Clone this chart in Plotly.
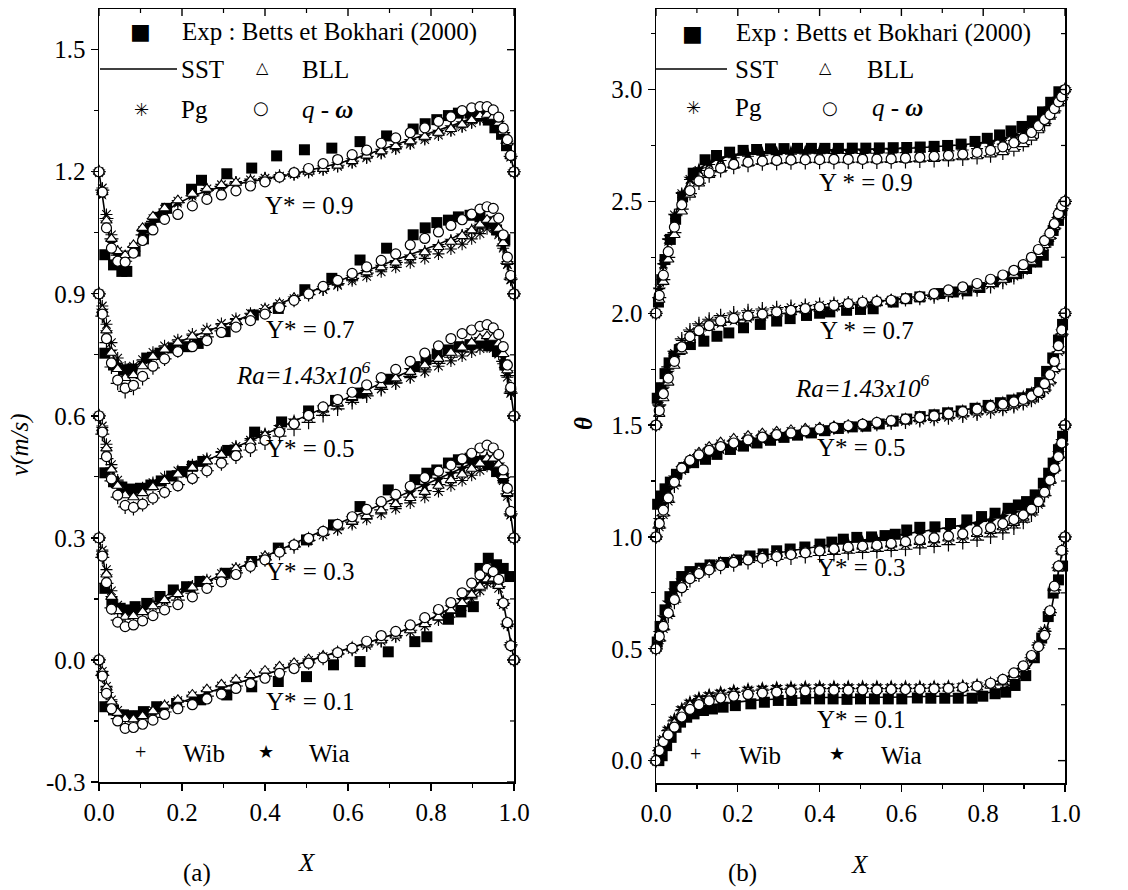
import plotly.graph_objects as go

W, H = 1128, 890
SERIF = "Liberation Serif, DejaVu Serif, serif"

# ---------------- shared X grid of the model profiles ----------------
XG = [0.0, 0.008, 0.018, 0.03, 0.045, 0.063, 0.083, 0.105, 0.13, 0.158, 0.19, 0.225, 0.26, 0.295,
      0.33, 0.365, 0.4, 0.435, 0.47, 0.505, 0.54, 0.575, 0.61, 0.645, 0.68, 0.715, 0.75, 0.785,
      0.818, 0.848, 0.875, 0.898, 0.918, 0.935, 0.95, 0.963, 0.974, 0.984, 0.992, 1.0]

# ---------------- panel (a): v (m/s) ----------------
# Y* = 0.9
a_exp_x_09 = [0.014, 0.035, 0.055, 0.067, 0.087, 0.107, 0.123, 0.143, 0.163, 0.223, 0.247, 0.308, 0.368, 0.428, 0.495,
              0.561, 0.629, 0.693, 0.757, 0.786, 0.814, 0.842, 0.866, 0.894, 0.918, 0.938, 0.954, 0.970, 0.982]
a_exp_v_09 = [0.996, 0.971, 0.955, 0.955, 1.005, 1.035, 1.062, 1.088, 1.110, 1.157, 1.179, 1.195, 1.209, 1.239, 1.254,
              1.258, 1.274, 1.288, 1.305, 1.318, 1.328, 1.338, 1.344, 1.344, 1.338, 1.327, 1.308, 1.292, 1.264]
a_sst_09 = [1.200, 1.140, 1.070, 1.020, 0.990, 0.985, 1.010, 1.048, 1.078, 1.102, 1.122, 1.140, 1.153, 1.163, 1.170, 1.176, 1.182, 1.188, 1.195, 1.203,
            1.211, 1.220, 1.230, 1.242, 1.254, 1.266, 1.278, 1.290, 1.301, 1.312, 1.322, 1.332, 1.340, 1.343, 1.338, 1.322, 1.300, 1.272, 1.240, 1.200]
a_bll_09 = [1.200, 1.150, 1.080, 1.035, 1.005, 0.995, 1.020, 1.062, 1.090, 1.110, 1.130, 1.146, 1.158, 1.167, 1.173, 1.178, 1.183, 1.188, 1.194, 1.200,
            1.207, 1.215, 1.226, 1.240, 1.250, 1.263, 1.275, 1.286, 1.296, 1.305, 1.316, 1.327, 1.337, 1.340, 1.335, 1.320, 1.298, 1.272, 1.238, 1.200]
a_pg_09 = [1.200, 1.160, 1.095, 1.045, 1.005, 0.990, 1.015, 1.055, 1.085, 1.108, 1.128, 1.145, 1.158, 1.168, 1.175, 1.180, 1.184, 1.189, 1.194, 1.199,
           1.205, 1.213, 1.222, 1.234, 1.245, 1.256, 1.268, 1.279, 1.290, 1.300, 1.310, 1.320, 1.328, 1.332, 1.328, 1.314, 1.293, 1.268, 1.236, 1.200]
a_qw_09 = [1.200, 1.150, 1.062, 1.012, 0.980, 0.978, 1.000, 1.031, 1.057, 1.083, 1.095, 1.116, 1.132, 1.143, 1.153, 1.165, 1.175, 1.187, 1.198, 1.208,
           1.220, 1.230, 1.242, 1.253, 1.270, 1.283, 1.296, 1.308, 1.324, 1.335, 1.350, 1.357, 1.360, 1.360, 1.352, 1.334, 1.307, 1.279, 1.240, 1.200]
a_wib_09 = [1.200, 1.155, 1.085, 1.035, 0.995, 0.980, 1.005, 1.045, 1.078, 1.102, 1.124, 1.141, 1.154, 1.164, 1.172, 1.178, 1.183, 1.189, 1.195, 1.201,
            1.208, 1.216, 1.226, 1.238, 1.249, 1.261, 1.273, 1.284, 1.295, 1.305, 1.315, 1.325, 1.333, 1.336, 1.331, 1.317, 1.296, 1.270, 1.238, 1.200]
a_wia_09 = [1.200, 1.145, 1.075, 1.025, 0.995, 0.988, 1.012, 1.050, 1.080, 1.104, 1.125, 1.142, 1.155, 1.165, 1.172, 1.178, 1.183, 1.189, 1.196, 1.203,
            1.210, 1.218, 1.228, 1.240, 1.251, 1.263, 1.275, 1.287, 1.298, 1.309, 1.319, 1.329, 1.337, 1.340, 1.335, 1.320, 1.298, 1.271, 1.239, 1.200]

# Y* = 0.7
a_exp_x_07 = [0.014, 0.035, 0.059, 0.079, 0.115, 0.147, 0.179, 0.211, 0.239, 0.304, 0.372, 0.432, 0.496, 0.561, 0.629,
              0.693, 0.757, 0.786, 0.814, 0.842, 0.866, 0.894, 0.918, 0.938, 0.958, 0.978]
a_exp_v_07 = [0.754, 0.725, 0.713, 0.715, 0.742, 0.754, 0.767, 0.770, 0.778, 0.807, 0.848, 0.864, 0.910, 0.938, 0.983,
              1.012, 1.045, 1.062, 1.075, 1.081, 1.089, 1.093, 1.089, 1.077, 1.057, 1.033]
a_sst_07 = [0.900, 0.855, 0.800, 0.755, 0.725, 0.712, 0.718, 0.735, 0.752, 0.767, 0.781, 0.795, 0.808, 0.821, 0.834, 0.848, 0.862, 0.876, 0.890, 0.904,
            0.918, 0.931, 0.944, 0.957, 0.970, 0.983, 0.996, 1.009, 1.022, 1.035, 1.048, 1.060, 1.071, 1.078, 1.074, 1.055, 1.022, 0.978, 0.938, 0.900]
a_bll_07 = [0.900, 0.860, 0.810, 0.755, 0.715, 0.693, 0.700, 0.722, 0.745, 0.763, 0.780, 0.795, 0.808, 0.820, 0.833, 0.847, 0.862, 0.876, 0.890, 0.904,
            0.917, 0.929, 0.941, 0.953, 0.965, 0.977, 0.990, 1.002, 1.015, 1.028, 1.042, 1.056, 1.070, 1.082, 1.080, 1.060, 1.025, 0.980, 0.940, 0.900]
a_pg_07 = [0.900, 0.870, 0.825, 0.780, 0.742, 0.720, 0.722, 0.738, 0.756, 0.772, 0.787, 0.801, 0.814, 0.827, 0.839, 0.852, 0.864, 0.876, 0.888, 0.899,
           0.910, 0.921, 0.932, 0.943, 0.954, 0.965, 0.976, 0.987, 0.998, 1.010, 1.022, 1.035, 1.048, 1.060, 1.062, 1.045, 1.012, 0.972, 0.935, 0.900]
a_qw_07 = [0.900, 0.850, 0.790, 0.730, 0.688, 0.668, 0.675, 0.697, 0.722, 0.740, 0.758, 0.770, 0.785, 0.805, 0.818, 0.834, 0.850, 0.866, 0.884, 0.900,
           0.918, 0.933, 0.950, 0.966, 0.982, 0.998, 1.020, 1.036, 1.052, 1.068, 1.082, 1.096, 1.108, 1.114, 1.110, 1.086, 1.045, 0.990, 0.945, 0.900]
a_wib_07 = [0.900, 0.845, 0.780, 0.720, 0.680, 0.660, 0.668, 0.692, 0.718, 0.740, 0.760, 0.778, 0.794, 0.809, 0.824, 0.839, 0.854, 0.869, 0.884, 0.898,
            0.912, 0.925, 0.938, 0.951, 0.964, 0.977, 0.990, 1.003, 1.016, 1.029, 1.042, 1.055, 1.067, 1.076, 1.072, 1.052, 1.018, 0.975, 0.936, 0.900]
a_wia_07 = [0.900, 0.858, 0.805, 0.758, 0.726, 0.710, 0.714, 0.731, 0.749, 0.765, 0.780, 0.794, 0.807, 0.820, 0.833, 0.846, 0.860, 0.874, 0.888, 0.901,
            0.914, 0.927, 0.940, 0.953, 0.966, 0.978, 0.991, 1.004, 1.017, 1.030, 1.043, 1.056, 1.067, 1.074, 1.070, 1.051, 1.018, 0.975, 0.936, 0.900]

# Y* = 0.5
a_exp_x_05 = [0.014, 0.035, 0.055, 0.075, 0.1, 0.125, 0.15, 0.175, 0.2, 0.225, 0.25, 0.31, 0.375, 0.44, 0.505, 0.57,
              0.63, 0.695, 0.76, 0.788, 0.815, 0.842, 0.868, 0.894, 0.918, 0.94, 0.96, 0.978]
a_exp_v_05 = [0.460, 0.438, 0.425, 0.420, 0.422, 0.430, 0.440, 0.452, 0.463, 0.476, 0.488, 0.515, 0.560, 0.585, 0.612, 0.638,
              0.656, 0.690, 0.721, 0.738, 0.752, 0.762, 0.770, 0.775, 0.779, 0.772, 0.758, 0.725]
a_sst_05 = [0.600, 0.565, 0.515, 0.465, 0.432, 0.414, 0.411, 0.419, 0.431, 0.444, 0.459, 0.475, 0.491, 0.507, 0.523, 0.539, 0.555, 0.571, 0.587, 0.603,
            0.619, 0.634, 0.649, 0.664, 0.679, 0.695, 0.711, 0.727, 0.742, 0.757, 0.769, 0.779, 0.787, 0.790, 0.784, 0.768, 0.742, 0.705, 0.660, 0.600]
a_bll_05 = [0.600, 0.570, 0.520, 0.468, 0.428, 0.405, 0.400, 0.410, 0.425, 0.440, 0.456, 0.472, 0.488, 0.504, 0.520, 0.536, 0.552, 0.568, 0.584, 0.600,
            0.616, 0.631, 0.646, 0.661, 0.676, 0.692, 0.708, 0.724, 0.740, 0.755, 0.768, 0.780, 0.790, 0.796, 0.792, 0.778, 0.752, 0.712, 0.665, 0.600]
a_pg_05 = [0.600, 0.575, 0.530, 0.480, 0.442, 0.420, 0.415, 0.423, 0.436, 0.450, 0.465, 0.480, 0.495, 0.510, 0.525, 0.540, 0.554, 0.568, 0.582, 0.596,
           0.610, 0.624, 0.638, 0.652, 0.666, 0.680, 0.694, 0.708, 0.722, 0.735, 0.747, 0.757, 0.765, 0.770, 0.766, 0.752, 0.728, 0.695, 0.655, 0.600]
a_qw_05 = [0.600, 0.560, 0.500, 0.445, 0.405, 0.380, 0.375, 0.383, 0.398, 0.412, 0.428, 0.446, 0.465, 0.484, 0.502, 0.521, 0.540, 0.560, 0.580, 0.601,
           0.622, 0.640, 0.658, 0.676, 0.694, 0.714, 0.734, 0.754, 0.772, 0.790, 0.802, 0.811, 0.820, 0.824, 0.816, 0.800, 0.770, 0.725, 0.670, 0.600]
a_wib_05 = [0.600, 0.555, 0.495, 0.440, 0.400, 0.376, 0.372, 0.382, 0.398, 0.414, 0.431, 0.448, 0.465, 0.482, 0.499, 0.516, 0.533, 0.550, 0.567, 0.584,
            0.601, 0.617, 0.633, 0.649, 0.665, 0.681, 0.697, 0.713, 0.729, 0.744, 0.757, 0.768, 0.777, 0.781, 0.776, 0.760, 0.734, 0.699, 0.656, 0.600]
a_wia_05 = [0.600, 0.567, 0.518, 0.468, 0.434, 0.415, 0.412, 0.420, 0.432, 0.445, 0.460, 0.476, 0.492, 0.508, 0.524, 0.540, 0.556, 0.572, 0.588, 0.604,
            0.620, 0.635, 0.650, 0.665, 0.680, 0.696, 0.712, 0.728, 0.743, 0.758, 0.770, 0.780, 0.788, 0.792, 0.786, 0.770, 0.744, 0.707, 0.661, 0.600]

# Y* = 0.3
a_exp_x_03 = [0.014, 0.031, 0.051, 0.067, 0.087, 0.115, 0.147, 0.179, 0.211, 0.243, 0.304, 0.368, 0.432, 0.5, 0.565,
              0.629, 0.697, 0.761, 0.79, 0.814, 0.842, 0.866, 0.894, 0.918, 0.938, 0.958, 0.974]
a_exp_v_03 = [0.176, 0.143, 0.127, 0.123, 0.131, 0.139, 0.156, 0.172, 0.180, 0.193, 0.213, 0.242, 0.275, 0.295, 0.332,
              0.377, 0.418, 0.443, 0.459, 0.467, 0.484, 0.492, 0.496, 0.488, 0.480, 0.463, 0.447]
a_sst_03 = [0.300, 0.260, 0.200, 0.150, 0.125, 0.115, 0.116, 0.124, 0.136, 0.149, 0.163, 0.178, 0.193, 0.208, 0.223, 0.239, 0.254, 0.270, 0.286, 0.302,
            0.318, 0.334, 0.350, 0.366, 0.382, 0.398, 0.414, 0.430, 0.445, 0.459, 0.472, 0.484, 0.494, 0.500, 0.497, 0.482, 0.455, 0.412, 0.361, 0.300]
a_bll_03 = [0.300, 0.265, 0.210, 0.155, 0.120, 0.106, 0.108, 0.118, 0.132, 0.147, 0.162, 0.178, 0.194, 0.210, 0.225, 0.240, 0.255, 0.270, 0.284, 0.298,
            0.312, 0.326, 0.340, 0.354, 0.368, 0.383, 0.398, 0.413, 0.428, 0.442, 0.456, 0.470, 0.483, 0.495, 0.495, 0.480, 0.452, 0.410, 0.360, 0.300]
a_pg_03 = [0.300, 0.270, 0.222, 0.170, 0.135, 0.120, 0.120, 0.128, 0.140, 0.153, 0.167, 0.182, 0.197, 0.212, 0.226, 0.240, 0.254, 0.268, 0.281, 0.294,
           0.307, 0.320, 0.333, 0.346, 0.359, 0.372, 0.386, 0.400, 0.414, 0.428, 0.441, 0.454, 0.466, 0.476, 0.478, 0.466, 0.441, 0.402, 0.356, 0.300]
a_qw_03 = [0.300, 0.255, 0.190, 0.125, 0.093, 0.082, 0.086, 0.096, 0.109, 0.123, 0.136, 0.155, 0.176, 0.192, 0.210, 0.230, 0.246, 0.265, 0.283, 0.299,
           0.316, 0.333, 0.352, 0.370, 0.389, 0.407, 0.427, 0.448, 0.464, 0.479, 0.494, 0.508, 0.521, 0.528, 0.521, 0.505, 0.467, 0.422, 0.365, 0.300]
a_wib_03 = [0.300, 0.252, 0.188, 0.128, 0.098, 0.088, 0.091, 0.102, 0.116, 0.131, 0.147, 0.164, 0.181, 0.198, 0.214, 0.230, 0.246, 0.262, 0.278, 0.294,
            0.309, 0.324, 0.339, 0.354, 0.369, 0.384, 0.400, 0.416, 0.431, 0.446, 0.460, 0.473, 0.485, 0.493, 0.491, 0.476, 0.449, 0.408, 0.359, 0.300]
a_wia_03 = [0.300, 0.262, 0.205, 0.152, 0.124, 0.113, 0.114, 0.122, 0.134, 0.147, 0.161, 0.176, 0.191, 0.206, 0.221, 0.237, 0.252, 0.268, 0.284, 0.300,
            0.316, 0.332, 0.348, 0.364, 0.380, 0.396, 0.412, 0.428, 0.443, 0.457, 0.470, 0.482, 0.492, 0.498, 0.495, 0.480, 0.453, 0.411, 0.360, 0.300]

# Y* = 0.1
a_exp_x_01 = [0.014, 0.035, 0.059, 0.083, 0.107, 0.139, 0.187, 0.245, 0.308, 0.368, 0.432, 0.5, 0.565, 0.629, 0.697,
              0.761, 0.79, 0.842, 0.872, 0.902, 0.918, 0.938, 0.958, 0.974, 0.99]
a_exp_v_01 = [-0.115, -0.123, -0.135, -0.137, -0.127, -0.115, -0.107, -0.098, -0.086, -0.066, -0.053, -0.041, -0.012, -0.004, 0.020,
              0.045, 0.057, 0.100, 0.118, 0.131, 0.225, 0.250, 0.234, 0.225, 0.205]
a_sst_01 = [0.000, -0.035, -0.075, -0.108, -0.130, -0.142, -0.143, -0.137, -0.128, -0.117, -0.105, -0.093, -0.081, -0.069, -0.058, -0.047, -0.036, -0.025, -0.014, -0.003,
            0.008, 0.019, 0.030, 0.041, 0.053, 0.065, 0.079, 0.094, 0.111, 0.128, 0.146, 0.165, 0.185, 0.202, 0.204, 0.186, 0.143, 0.090, 0.038, 0.000]
a_bll_01 = [0.000, -0.030, -0.068, -0.102, -0.130, -0.145, -0.146, -0.138, -0.126, -0.112, -0.098, -0.085, -0.072, -0.060, -0.048, -0.037, -0.026, -0.016, -0.007, 0.002,
            0.010, 0.019, 0.028, 0.038, 0.048, 0.060, 0.073, 0.088, 0.105, 0.122, 0.140, 0.160, 0.180, 0.198, 0.200, 0.182, 0.140, 0.088, 0.038, 0.000]
a_pg_01 = [0.000, -0.028, -0.065, -0.098, -0.124, -0.138, -0.140, -0.134, -0.124, -0.112, -0.100, -0.088, -0.076, -0.064, -0.053, -0.042, -0.031, -0.021, -0.011, -0.001,
           0.008, 0.017, 0.026, 0.036, 0.046, 0.057, 0.069, 0.083, 0.098, 0.114, 0.131, 0.150, 0.170, 0.188, 0.192, 0.176, 0.136, 0.086, 0.037, 0.000]
a_qw_01 = [0.000, -0.040, -0.082, -0.120, -0.150, -0.168, -0.166, -0.158, -0.148, -0.134, -0.120, -0.110, -0.096, -0.084, -0.070, -0.058, -0.045, -0.033, -0.021, -0.008,
           0.005, 0.018, 0.029, 0.046, 0.060, 0.070, 0.086, 0.104, 0.124, 0.141, 0.165, 0.189, 0.209, 0.225, 0.217, 0.198, 0.140, 0.092, 0.035, 0.000]
a_wib_01 = [0.000, -0.038, -0.080, -0.116, -0.144, -0.160, -0.160, -0.152, -0.141, -0.128, -0.115, -0.102, -0.089, -0.076, -0.064, -0.052, -0.040, -0.029, -0.018, -0.007,
            0.004, 0.015, 0.026, 0.037, 0.048, 0.060, 0.073, 0.087, 0.103, 0.120, 0.138, 0.157, 0.177, 0.195, 0.198, 0.180, 0.139, 0.088, 0.037, 0.000]
a_wia_01 = [0.000, -0.034, -0.073, -0.106, -0.128, -0.140, -0.141, -0.135, -0.126, -0.115, -0.103, -0.091, -0.079, -0.067, -0.056, -0.045, -0.034, -0.023, -0.012, -0.002,
            0.009, 0.020, 0.031, 0.042, 0.054, 0.066, 0.080, 0.095, 0.112, 0.129, 0.147, 0.166, 0.186, 0.203, 0.205, 0.187, 0.144, 0.091, 0.039, 0.000]

# ---------------- panel (b): theta ----------------
# Y* = 0.9
b_exp_x_09 = [0.006, 0.014, 0.022, 0.035, 0.048, 0.065, 0.091, 0.12, 0.148, 0.18, 0.213, 0.246, 0.28, 0.313, 0.346, 0.38, 0.413, 0.446,
              0.48, 0.513, 0.546, 0.58, 0.613, 0.646, 0.68, 0.713, 0.746, 0.78, 0.81, 0.84, 0.868, 0.895, 0.92, 0.945, 0.965, 0.985]
b_exp_v_09 = [2.05, 2.15, 2.24, 2.33, 2.42, 2.52, 2.626, 2.686, 2.705, 2.72, 2.728, 2.732, 2.735, 2.736, 2.737, 2.737, 2.737, 2.737,
              2.738, 2.738, 2.739, 2.740, 2.741, 2.743, 2.746, 2.750, 2.756, 2.768, 2.782, 2.797, 2.815, 2.835, 2.86, 2.90, 2.943, 2.99]
b_sst_09 = [2.000, 2.100, 2.210, 2.320, 2.430, 2.530, 2.600, 2.645, 2.675, 2.695, 2.708, 2.716, 2.721, 2.724, 2.726, 2.728, 2.729, 2.730, 2.731, 2.732,
            2.733, 2.735, 2.737, 2.740, 2.744, 2.748, 2.753, 2.760, 2.769, 2.782, 2.798, 2.818, 2.843, 2.870, 2.895, 2.916, 2.938, 2.960, 2.978, 3.000]
b_bll_09 = [2.000, 2.060, 2.140, 2.240, 2.350, 2.455, 2.530, 2.580, 2.618, 2.643, 2.660, 2.670, 2.676, 2.680, 2.682, 2.683, 2.684, 2.684, 2.684, 2.684,
            2.684, 2.685, 2.686, 2.688, 2.690, 2.693, 2.697, 2.702, 2.710, 2.720, 2.735, 2.756, 2.785, 2.818, 2.850, 2.878, 2.906, 2.938, 2.965, 3.000]
b_pg_09 = [2.000, 2.110, 2.220, 2.330, 2.440, 2.535, 2.598, 2.638, 2.665, 2.683, 2.695, 2.702, 2.706, 2.709, 2.711, 2.712, 2.713, 2.714, 2.714, 2.714,
           2.715, 2.716, 2.718, 2.720, 2.723, 2.726, 2.730, 2.736, 2.744, 2.756, 2.772, 2.793, 2.820, 2.850, 2.878, 2.902, 2.926, 2.952, 2.972, 3.000]
b_qw_09 = [2.000, 2.080, 2.170, 2.275, 2.385, 2.485, 2.548, 2.592, 2.627, 2.649, 2.665, 2.675, 2.680, 2.683, 2.685, 2.686, 2.687, 2.688, 2.688, 2.688,
           2.689, 2.690, 2.693, 2.697, 2.701, 2.706, 2.711, 2.719, 2.728, 2.744, 2.762, 2.782, 2.808, 2.838, 2.866, 2.888, 2.915, 2.945, 2.968, 3.000]
b_wib_09 = [2.000, 2.070, 2.150, 2.250, 2.360, 2.465, 2.535, 2.582, 2.615, 2.638, 2.653, 2.662, 2.668, 2.671, 2.673, 2.674, 2.675, 2.675, 2.675, 2.676,
            2.676, 2.677, 2.678, 2.680, 2.683, 2.686, 2.690, 2.696, 2.704, 2.716, 2.732, 2.754, 2.782, 2.815, 2.848, 2.876, 2.905, 2.937, 2.964, 3.000]
b_wia_09 = [2.000, 2.105, 2.215, 2.325, 2.435, 2.532, 2.600, 2.643, 2.672, 2.691, 2.703, 2.711, 2.716, 2.719, 2.721, 2.723, 2.724, 2.725, 2.726, 2.727,
            2.728, 2.730, 2.732, 2.735, 2.739, 2.743, 2.748, 2.755, 2.764, 2.777, 2.793, 2.814, 2.840, 2.868, 2.893, 2.914, 2.936, 2.958, 2.977, 3.000]

# Y* = 0.7
b_exp_x_07 = [0.003, 0.012, 0.022, 0.032, 0.044, 0.059, 0.084, 0.117, 0.149, 0.178, 0.214, 0.255, 0.295, 0.328, 0.368, 0.4, 0.425, 0.466,
              0.5, 0.531, 0.58, 0.613, 0.645, 0.694, 0.727, 0.76, 0.792, 0.825, 0.857, 0.882, 0.906, 0.931, 0.947, 0.959, 0.971, 0.984, 0.992]
b_exp_v_07 = [1.62, 1.667, 1.73, 1.778, 1.808, 1.838, 1.86, 1.875, 1.897, 1.912, 1.935, 1.95, 1.965, 1.976, 1.99, 2.0, 2.006, 2.013,
              2.017, 2.02, 2.05, 2.065, 2.073, 2.088, 2.095, 2.1, 2.115, 2.14, 2.162, 2.177, 2.2, 2.229, 2.259, 2.326, 2.37, 2.415, 2.46]
b_sst_07 = [1.500, 1.580, 1.660, 1.735, 1.800, 1.855, 1.893, 1.918, 1.938, 1.954, 1.966, 1.977, 1.986, 1.995, 2.003, 2.011, 2.019, 2.027, 2.035, 2.043,
            2.050, 2.058, 2.066, 2.075, 2.085, 2.096, 2.108, 2.122, 2.138, 2.157, 2.180, 2.206, 2.238, 2.274, 2.314, 2.350, 2.392, 2.438, 2.474, 2.500]
b_bll_07 = [1.500, 1.550, 1.620, 1.690, 1.765, 1.832, 1.880, 1.912, 1.937, 1.956, 1.970, 1.981, 1.990, 1.998, 2.005, 2.012, 2.019, 2.026, 2.033, 2.039,
            2.045, 2.051, 2.058, 2.066, 2.076, 2.088, 2.101, 2.115, 2.131, 2.150, 2.172, 2.198, 2.230, 2.265, 2.305, 2.342, 2.385, 2.432, 2.470, 2.500]
b_pg_07 = [1.500, 1.585, 1.670, 1.750, 1.820, 1.878, 1.918, 1.946, 1.966, 1.981, 1.993, 2.003, 2.011, 2.018, 2.025, 2.031, 2.036, 2.041, 2.046, 2.050,
           2.054, 2.059, 2.064, 2.070, 2.078, 2.088, 2.099, 2.112, 2.127, 2.145, 2.166, 2.192, 2.224, 2.260, 2.300, 2.338, 2.382, 2.430, 2.468, 2.500]
b_qw_07 = [1.500, 1.565, 1.640, 1.710, 1.785, 1.850, 1.895, 1.922, 1.945, 1.966, 1.977, 1.988, 1.996, 2.006, 2.013, 2.021, 2.028, 2.035, 2.043, 2.049,
           2.053, 2.058, 2.065, 2.074, 2.088, 2.104, 2.118, 2.133, 2.152, 2.171, 2.192, 2.217, 2.250, 2.285, 2.325, 2.358, 2.400, 2.445, 2.480, 2.500]
b_wib_07 = [1.500, 1.590, 1.680, 1.760, 1.830, 1.885, 1.925, 1.953, 1.973, 1.989, 2.001, 2.011, 2.019, 2.025, 2.030, 2.035, 2.039, 2.043, 2.046, 2.049,
            2.052, 2.056, 2.061, 2.067, 2.074, 2.083, 2.093, 2.105, 2.120, 2.138, 2.160, 2.186, 2.218, 2.255, 2.296, 2.335, 2.380, 2.428, 2.467, 2.500]
b_wia_07 = [1.500, 1.578, 1.658, 1.733, 1.800, 1.856, 1.895, 1.921, 1.941, 1.957, 1.969, 1.980, 1.989, 1.998, 2.006, 2.014, 2.022, 2.030, 2.037, 2.044,
            2.051, 2.058, 2.065, 2.073, 2.082, 2.093, 2.105, 2.119, 2.135, 2.154, 2.177, 2.203, 2.235, 2.271, 2.311, 2.348, 2.390, 2.436, 2.472, 2.500]

# Y* = 0.5
b_exp_x_05 = [0.004, 0.012, 0.022, 0.035, 0.05, 0.068, 0.092, 0.121, 0.149, 0.182, 0.214, 0.247, 0.28, 0.313, 0.346, 0.38, 0.413, 0.446, 0.48,
              0.513, 0.546, 0.58, 0.613, 0.646, 0.68, 0.713, 0.746, 0.78, 0.812, 0.842, 0.87, 0.895, 0.918, 0.938, 0.955, 0.97, 0.984, 0.994]
b_exp_v_05 = [1.146, 1.183, 1.215, 1.245, 1.28, 1.31, 1.332, 1.347, 1.369, 1.391, 1.406, 1.42, 1.432, 1.445, 1.455, 1.465, 1.475, 1.485, 1.492,
              1.495, 1.505, 1.518, 1.527, 1.538, 1.546, 1.555, 1.563, 1.575, 1.588, 1.600, 1.612, 1.622, 1.640, 1.690, 1.740, 1.800, 1.880, 1.950]
b_sst_05 = [1.000, 1.080, 1.150, 1.215, 1.268, 1.308, 1.335, 1.355, 1.373, 1.389, 1.404, 1.418, 1.431, 1.443, 1.454, 1.464, 1.474, 1.483, 1.492, 1.500,
            1.509, 1.518, 1.527, 1.536, 1.545, 1.555, 1.566, 1.578, 1.591, 1.604, 1.617, 1.631, 1.646, 1.664, 1.688, 1.720, 1.770, 1.845, 1.920, 2.000]
b_bll_05 = [1.000, 1.050, 1.105, 1.165, 1.240, 1.305, 1.345, 1.378, 1.404, 1.424, 1.440, 1.453, 1.464, 1.472, 1.479, 1.485, 1.490, 1.495, 1.500, 1.505,
            1.510, 1.515, 1.520, 1.526, 1.532, 1.539, 1.547, 1.556, 1.566, 1.577, 1.588, 1.600, 1.615, 1.635, 1.660, 1.695, 1.750, 1.830, 1.910, 2.000]
b_pg_05 = [1.000, 1.045, 1.100, 1.160, 1.232, 1.298, 1.340, 1.372, 1.397, 1.416, 1.432, 1.445, 1.456, 1.465, 1.472, 1.479, 1.485, 1.491, 1.497, 1.502,
           1.507, 1.512, 1.517, 1.522, 1.528, 1.535, 1.543, 1.552, 1.562, 1.573, 1.585, 1.598, 1.613, 1.633, 1.658, 1.692, 1.748, 1.828, 1.908, 2.000]
b_qw_05 = [1.000, 1.060, 1.120, 1.175, 1.245, 1.308, 1.342, 1.367, 1.387, 1.404, 1.420, 1.434, 1.446, 1.457, 1.465, 1.474, 1.482, 1.490, 1.497, 1.504,
           1.512, 1.520, 1.527, 1.534, 1.541, 1.550, 1.560, 1.571, 1.583, 1.594, 1.604, 1.615, 1.630, 1.650, 1.685, 1.725, 1.785, 1.855, 1.925, 2.000]
b_wib_05 = [1.000, 1.040, 1.095, 1.155, 1.228, 1.293, 1.336, 1.368, 1.393, 1.412, 1.428, 1.441, 1.452, 1.461, 1.469, 1.476, 1.482, 1.488, 1.494, 1.499,
            1.504, 1.509, 1.514, 1.520, 1.526, 1.533, 1.541, 1.550, 1.560, 1.571, 1.583, 1.596, 1.611, 1.631, 1.656, 1.690, 1.746, 1.826, 1.906, 2.000]
b_wia_05 = [1.000, 1.075, 1.145, 1.210, 1.265, 1.307, 1.336, 1.358, 1.377, 1.393, 1.408, 1.422, 1.435, 1.446, 1.456, 1.466, 1.475, 1.484, 1.493, 1.501,
            1.510, 1.518, 1.527, 1.536, 1.545, 1.554, 1.564, 1.576, 1.588, 1.601, 1.614, 1.628, 1.643, 1.661, 1.685, 1.717, 1.767, 1.842, 1.918, 2.000]

# Y* = 0.3
b_exp_x_03 = [0.003, 0.01, 0.022, 0.034, 0.046, 0.063, 0.083, 0.108, 0.132, 0.165, 0.197, 0.23, 0.262, 0.295, 0.328, 0.364, 0.401, 0.43, 0.458, 0.491,
              0.527, 0.56, 0.585, 0.613, 0.645, 0.682, 0.72, 0.76, 0.796, 0.829, 0.861, 0.886, 0.906, 0.927, 0.947, 0.96, 0.971, 0.984, 0.994]
b_exp_v_03 = [0.53, 0.60, 0.674, 0.733, 0.778, 0.823, 0.845, 0.86, 0.875, 0.886, 0.897, 0.915, 0.924, 0.938, 0.946, 0.955, 0.968, 0.977, 0.99, 0.998,
              1.0, 1.006, 1.012, 1.031, 1.043, 1.045, 1.06, 1.076, 1.091, 1.106, 1.128, 1.143, 1.158, 1.188, 1.24, 1.285, 1.33, 1.39, 1.45]
b_sst_03 = [0.500, 0.575, 0.645, 0.712, 0.765, 0.808, 0.836, 0.856, 0.871, 0.884, 0.896, 0.907, 0.918, 0.928, 0.938, 0.948, 0.958, 0.968, 0.977, 0.986,
            0.995, 1.004, 1.013, 1.022, 1.032, 1.042, 1.053, 1.066, 1.081, 1.098, 1.116, 1.136, 1.160, 1.190, 1.230, 1.275, 1.325, 1.378, 1.430, 1.500]
b_bll_03 = [0.500, 0.545, 0.595, 0.660, 0.725, 0.785, 0.826, 0.851, 0.870, 0.886, 0.899, 0.909, 0.917, 0.924, 0.930, 0.936, 0.941, 0.946, 0.951, 0.956,
            0.961, 0.966, 0.972, 0.978, 0.985, 0.993, 1.002, 1.013, 1.027, 1.043, 1.063, 1.086, 1.114, 1.150, 1.195, 1.250, 1.305, 1.362, 1.420, 1.500]
b_pg_03 = [0.500, 0.540, 0.590, 0.652, 0.718, 0.778, 0.820, 0.846, 0.865, 0.881, 0.894, 0.904, 0.912, 0.919, 0.925, 0.931, 0.936, 0.941, 0.946, 0.951,
           0.955, 0.960, 0.965, 0.971, 0.978, 0.986, 0.995, 1.006, 1.020, 1.037, 1.057, 1.080, 1.109, 1.146, 1.192, 1.248, 1.303, 1.360, 1.418, 1.500]
b_qw_03 = [0.500, 0.555, 0.600, 0.660, 0.720, 0.773, 0.814, 0.836, 0.853, 0.872, 0.886, 0.897, 0.904, 0.912, 0.921, 0.929, 0.938, 0.946, 0.954, 0.959,
           0.963, 0.971, 0.979, 0.988, 0.996, 1.004, 1.014, 1.027, 1.042, 1.059, 1.078, 1.098, 1.124, 1.158, 1.200, 1.254, 1.305, 1.359, 1.420, 1.500]
b_wib_03 = [0.500, 0.535, 0.585, 0.645, 0.708, 0.765, 0.805, 0.830, 0.848, 0.864, 0.876, 0.886, 0.894, 0.900, 0.906, 0.912, 0.917, 0.922, 0.927, 0.931,
            0.935, 0.940, 0.945, 0.951, 0.958, 0.966, 0.975, 0.986, 1.000, 1.018, 1.040, 1.066, 1.098, 1.138, 1.185, 1.242, 1.298, 1.356, 1.415, 1.500]
b_wia_03 = [0.500, 0.570, 0.640, 0.706, 0.760, 0.804, 0.834, 0.855, 0.871, 0.885, 0.897, 0.908, 0.918, 0.927, 0.936, 0.945, 0.954, 0.963, 0.971, 0.979,
            0.987, 0.995, 1.004, 1.013, 1.023, 1.033, 1.044, 1.057, 1.072, 1.089, 1.108, 1.129, 1.154, 1.185, 1.226, 1.272, 1.322, 1.375, 1.428, 1.500]

# Y* = 0.1
b_exp_x_01 = [0.007, 0.015, 0.026, 0.037, 0.049, 0.06, 0.075, 0.093, 0.116, 0.138, 0.164, 0.194, 0.232, 0.265, 0.299, 0.332, 0.366, 0.4, 0.433, 0.467,
              0.5, 0.534, 0.568, 0.601, 0.639, 0.672, 0.706, 0.739, 0.773, 0.799, 0.829, 0.855, 0.878, 0.904, 0.925, 0.943, 0.959, 0.971, 0.984, 0.994]
b_exp_v_01 = [0.0, 0.022, 0.067, 0.104, 0.149, 0.172, 0.194, 0.209, 0.224, 0.231, 0.239, 0.246, 0.254, 0.261, 0.269, 0.269, 0.276, 0.276, 0.276, 0.274,
              0.276, 0.276, 0.276, 0.276, 0.28, 0.279, 0.279, 0.279, 0.279, 0.288, 0.299, 0.306, 0.336, 0.38, 0.46, 0.548, 0.644, 0.749, 0.808, 0.87]
b_sst_01 = [0.000, 0.035, 0.075, 0.110, 0.148, 0.185, 0.212, 0.230, 0.243, 0.253, 0.261, 0.267, 0.272, 0.276, 0.279, 0.281, 0.282, 0.283, 0.283, 0.283,
            0.283, 0.283, 0.284, 0.284, 0.285, 0.287, 0.290, 0.296, 0.306, 0.322, 0.346, 0.382, 0.432, 0.490, 0.555, 0.640, 0.740, 0.845, 0.925, 1.000]
b_bll_01 = [0.000, 0.040, 0.085, 0.125, 0.168, 0.215, 0.248, 0.268, 0.283, 0.294, 0.302, 0.308, 0.312, 0.315, 0.317, 0.318, 0.319, 0.319, 0.319, 0.319,
            0.319, 0.319, 0.319, 0.319, 0.320, 0.321, 0.323, 0.327, 0.335, 0.350, 0.374, 0.410, 0.460, 0.515, 0.575, 0.660, 0.760, 0.860, 0.935, 1.000]
b_pg_01 = [0.000, 0.048, 0.095, 0.138, 0.182, 0.228, 0.258, 0.277, 0.291, 0.302, 0.310, 0.316, 0.320, 0.323, 0.325, 0.326, 0.327, 0.327, 0.327, 0.327,
           0.327, 0.327, 0.327, 0.327, 0.328, 0.329, 0.331, 0.335, 0.343, 0.357, 0.380, 0.414, 0.462, 0.518, 0.580, 0.665, 0.765, 0.865, 0.938, 1.000]
b_qw_01 = [0.000, 0.045, 0.085, 0.115, 0.150, 0.195, 0.229, 0.250, 0.267, 0.280, 0.288, 0.296, 0.302, 0.306, 0.309, 0.312, 0.314, 0.315, 0.315, 0.316,
           0.316, 0.318, 0.318, 0.319, 0.321, 0.323, 0.327, 0.333, 0.346, 0.363, 0.392, 0.424, 0.470, 0.510, 0.560, 0.670, 0.780, 0.870, 0.940, 1.000]
b_wib_01 = [0.000, 0.045, 0.092, 0.134, 0.178, 0.223, 0.253, 0.272, 0.286, 0.297, 0.305, 0.311, 0.315, 0.318, 0.320, 0.321, 0.322, 0.322, 0.322, 0.322,
            0.322, 0.322, 0.322, 0.323, 0.324, 0.325, 0.327, 0.331, 0.339, 0.354, 0.377, 0.412, 0.460, 0.516, 0.578, 0.662, 0.762, 0.862, 0.936, 1.000]
b_wia_01 = [0.000, 0.050, 0.098, 0.142, 0.187, 0.233, 0.263, 0.282, 0.296, 0.307, 0.315, 0.321, 0.325, 0.328, 0.330, 0.331, 0.332, 0.332, 0.332, 0.332,
            0.332, 0.332, 0.332, 0.332, 0.333, 0.334, 0.336, 0.340, 0.348, 0.362, 0.385, 0.418, 0.465, 0.520, 0.582, 0.668, 0.768, 0.868, 0.940, 1.000]

# ---------------- axis ticks ----------------
A_XTICKS = [0.0, 0.2, 0.4, 0.6, 0.8, 1.0]
A_XTEXT = ["0.0", "0.2", "0.4", "0.6", "0.8", "1.0"]
A_XMINOR = [0.1, 0.3, 0.5, 0.7, 0.9]
A_YTICKS = [-0.3, 0.0, 0.3, 0.6, 0.9, 1.2, 1.5]
A_YTEXT = ["-0.3", "0.0", "0.3", "0.6", "0.9", "1.2", "1.5"]
A_YMINOR = [-0.15, 0.15, 0.45, 0.75, 1.05, 1.35]
B_YTICKS = [0.0, 0.5, 1.0, 1.5, 2.0, 2.5, 3.0]
B_YTEXT = ["0.0", "0.5", "1.0", "1.5", "2.0", "2.5", "3.0"]
B_YMINOR = [0.25, 0.75, 1.25, 1.75, 2.25, 2.75, 3.25]

# ---------------- build figure ----------------
PANELS = {
    "a": {"xa": "x", "ya": "y", "profiles": [
        (a_exp_x_09, a_exp_v_09, a_sst_09, a_bll_09, a_pg_09, a_qw_09, a_wib_09, a_wia_09),
        (a_exp_x_07, a_exp_v_07, a_sst_07, a_bll_07, a_pg_07, a_qw_07, a_wib_07, a_wia_07),
        (a_exp_x_05, a_exp_v_05, a_sst_05, a_bll_05, a_pg_05, a_qw_05, a_wib_05, a_wia_05),
        (a_exp_x_03, a_exp_v_03, a_sst_03, a_bll_03, a_pg_03, a_qw_03, a_wib_03, a_wia_03),
        (a_exp_x_01, a_exp_v_01, a_sst_01, a_bll_01, a_pg_01, a_qw_01, a_wib_01, a_wia_01)]},
    "b": {"xa": "x2", "ya": "y2", "profiles": [
        (b_exp_x_09, b_exp_v_09, b_sst_09, b_bll_09, b_pg_09, b_qw_09, b_wib_09, b_wia_09),
        (b_exp_x_07, b_exp_v_07, b_sst_07, b_bll_07, b_pg_07, b_qw_07, b_wib_07, b_wia_07),
        (b_exp_x_05, b_exp_v_05, b_sst_05, b_bll_05, b_pg_05, b_qw_05, b_wib_05, b_wia_05),
        (b_exp_x_03, b_exp_v_03, b_sst_03, b_bll_03, b_pg_03, b_qw_03, b_wib_03, b_wia_03),
        (b_exp_x_01, b_exp_v_01, b_sst_01, b_bll_01, b_pg_01, b_qw_01, b_wib_01, b_wia_01)]},
}

for p in PANELS.values():
    for prof in p["profiles"]:
        assert len(prof[0]) == len(prof[1]), "exp length mismatch"
        for arr in prof[2:]:
            assert len(arr) == len(XG), "model length mismatch %d" % len(arr)

fig = go.Figure()
MARKER_STYLES = {
    "wia": dict(symbol="star", size=10, color="black", line=dict(width=0)),
    "wib": dict(symbol="cross-thin-open", size=10, color="black", line=dict(width=1.2, color="black")),
    "pg": dict(symbol="asterisk-open", size=10, color="black", line=dict(width=1.1, color="black")),
    "bll": dict(symbol="triangle-up", size=10, color="white", line=dict(width=1.1, color="black")),
    "qw": dict(symbol="circle", size=10, color="white", line=dict(width=1.2, color="black")),
}
for key, p in PANELS.items():
    xa, ya = p["xa"], p["ya"]
    for (ex, ev, sst, bll, pg, qw, wib, wia) in p["profiles"]:
        fig.add_trace(go.Scatter(x=ex, y=ev, mode="markers", xaxis=xa, yaxis=ya, cliponaxis=False,
                                 marker=dict(symbol="square", size=11, color="black"), showlegend=False))
        fig.add_trace(go.Scatter(x=XG, y=sst, mode="lines", xaxis=xa, yaxis=ya, cliponaxis=False,
                                 line=dict(color="black", width=1.6), showlegend=False))
        for name, vals in (("wia", wia), ("wib", wib), ("pg", pg), ("bll", bll), ("qw", qw)):
            fig.add_trace(go.Scatter(x=XG, y=vals, mode="markers", xaxis=xa, yaxis=ya, cliponaxis=False,
                                     marker=MARKER_STYLES[name], showlegend=False))


# positions below are given in page pixels of the 1128x890 window
def px(x):
    return x / W


def py(y):
    return 1 - y / H


ann = []
TXT = 25


def txt(x, y, s, size=TXT, xanchor="center", family=SERIF, angle=0):
    ann.append(dict(x=px(x), y=py(y), xref="paper", yref="paper", text=s, showarrow=False,
                    xanchor=xanchor, yanchor="middle", textangle=angle, borderpad=0,
                    font=dict(family=family, size=size, color="black")))


SYM = "DejaVu Sans"
QW = "<i>q</i> - <b><i>ω</i></b>"
RA = "<i>Ra=1.43x10<sup>6</sup></i>"
# panel (a) texts
txt(140, 32, "■", 22, family=SYM)
txt(181, 32, "Exp : Betts et Bokhari (2000)", xanchor="left")
txt(180, 69, "SST", xanchor="left")
txt(262, 68, "△", 16, family=SYM)
txt(301, 69, "BLL", xanchor="left")
txt(141, 109, "✳", 18, family=SYM)
txt(180, 110, "Pg", xanchor="left")
txt(261, 108, "○", 18, family=SYM)
txt(301, 110, QW, xanchor="left")
txt(140, 752, "+", 20)
txt(182, 753, "Wib", xanchor="left")
txt(266, 751, "★", 18, family=SYM)
txt(308, 753, "Wia", xanchor="left")
txt(309, 205, "Y* = 0.9")
txt(310, 329, "Y* = 0.7")
txt(303, 373, RA)
txt(310, 449, "Y* = 0.5")
txt(310, 571, "Y* = 0.3")
txt(310, 701, "Y* = 0.1")
txt(20, 445, "<i>v(m/s)</i>", angle=-90)
txt(307, 862, "<i>X</i>")
txt(197, 873, "(a)")
# panel (b) texts
txt(692, 33, "■", 22, family=SYM)
txt(735, 33, "Exp : Betts et Bokhari (2000)", xanchor="left")
txt(734, 69, "SST", xanchor="left")
txt(825, 68, "△", 16, family=SYM)
txt(866, 69, "BLL", xanchor="left")
txt(693, 107, "✳", 18, family=SYM)
txt(734, 108, "Pg", xanchor="left")
txt(830, 107, "○", 18, family=SYM)
txt(871, 108, QW, xanchor="left")
txt(695, 754, "+", 20)
txt(738, 755, "Wib", xanchor="left")
txt(837, 753, "★", 18, family=SYM)
txt(880, 755, "Wia", xanchor="left")
txt(866, 182, "Y * = 0.9")
txt(867, 331, "Y * = 0.7")
txt(862, 386, RA)
txt(861, 447, "Y* = 0.5")
txt(861, 567, "Y* = 0.3")
txt(861, 719, "Y* = 0.1")
txt(583, 424, "<b><i>θ</i></b>", angle=-90)
txt(860, 864, "<i>X</i>")
txt(742, 873, "(b)")

shapes = [
    dict(type="line", xref="paper", yref="paper", x0=px(100), x1=px(177), y0=py(69), y1=py(69),
         line=dict(color="black", width=1.6)),
    dict(type="line", xref="paper", yref="paper", x0=px(656), x1=px(727), y0=py(69), y1=py(69),
         line=dict(color="black", width=1.6)),
]

# inward ticks on the top and right frame edges (Origin style)
PLOT_W = {"x": 415.0, "x2": 409.0}
PLOT_H = {"y": 773.0, "y2": 774.0}


def inner_ticks(xa, ya, xt, xm, yt, ym):
    for vals, L, w in ((xt, 7, 1.4), (xm, 4, 1.2)):
        for t in vals:
            shapes.append(dict(type="line", xref=xa, yref=ya + " domain", x0=t, x1=t, y0=1, y1=1 - L / PLOT_H[ya],
                               line=dict(color="black", width=w)))
    for vals, L, w in ((yt, 7, 1.4), (ym, 4, 1.2)):
        for t in vals:
            shapes.append(dict(type="line", xref=xa + " domain", yref=ya, x0=1, x1=1 - L / PLOT_W[xa], y0=t, y1=t,
                               line=dict(color="black", width=w)))


inner_ticks("x", "y", A_XTICKS, A_XMINOR, A_YTICKS, A_YMINOR)
inner_ticks("x2", "y2", A_XTICKS, A_XMINOR, B_YTICKS, B_YMINOR)

AX = dict(showline=True, linecolor="black", linewidth=1.5, mirror=True, ticks="outside",
          ticklen=7, tickwidth=1.4, tickcolor="black", showgrid=False, zeroline=False, automargin=False,
          tickfont=dict(family=SERIF, size=25, color="black"), tickmode="array")
MINOR = dict(ticks="outside", ticklen=4, tickwidth=1.2, tickcolor="black", showgrid=False)

fig.update_layout(
    width=W, height=H, margin=dict(l=0, r=0, t=0, b=0, pad=0), autosize=False,
    paper_bgcolor="white", plot_bgcolor="white", showlegend=False, hovermode=False,
    xaxis=dict(AX, domain=[px(99), px(514)], range=[0, 1], anchor="y",
               tickvals=A_XTICKS, ticktext=A_XTEXT, minor=dict(MINOR, tickvals=A_XMINOR)),
    yaxis=dict(AX, domain=[py(782), py(9)], range=[-0.3, 1.6], anchor="x",
               tickvals=A_YTICKS, ticktext=A_YTEXT, minor=dict(MINOR, tickvals=A_YMINOR)),
    xaxis2=dict(AX, domain=[px(656), px(1065)], range=[0, 1], anchor="y2",
                tickvals=A_XTICKS, ticktext=A_XTEXT, minor=dict(MINOR, tickvals=A_XMINOR)),
    yaxis2=dict(AX, domain=[py(783), py(9)], range=[-0.1, 3.36], anchor="x2",
                tickvals=B_YTICKS, ticktext=B_YTEXT, minor=dict(MINOR, tickvals=B_YMINOR)),
    annotations=ann, shapes=shapes,
)

# remove the browser's default 8 px body margin so the figure sits at the page origin
PAGE_JS = "document.body.style.margin='0';document.body.style.overflow='hidden';"
fig.write_html("out.html", post_script=PAGE_JS, config={"displayModeBar": False, "staticPlot": True})
